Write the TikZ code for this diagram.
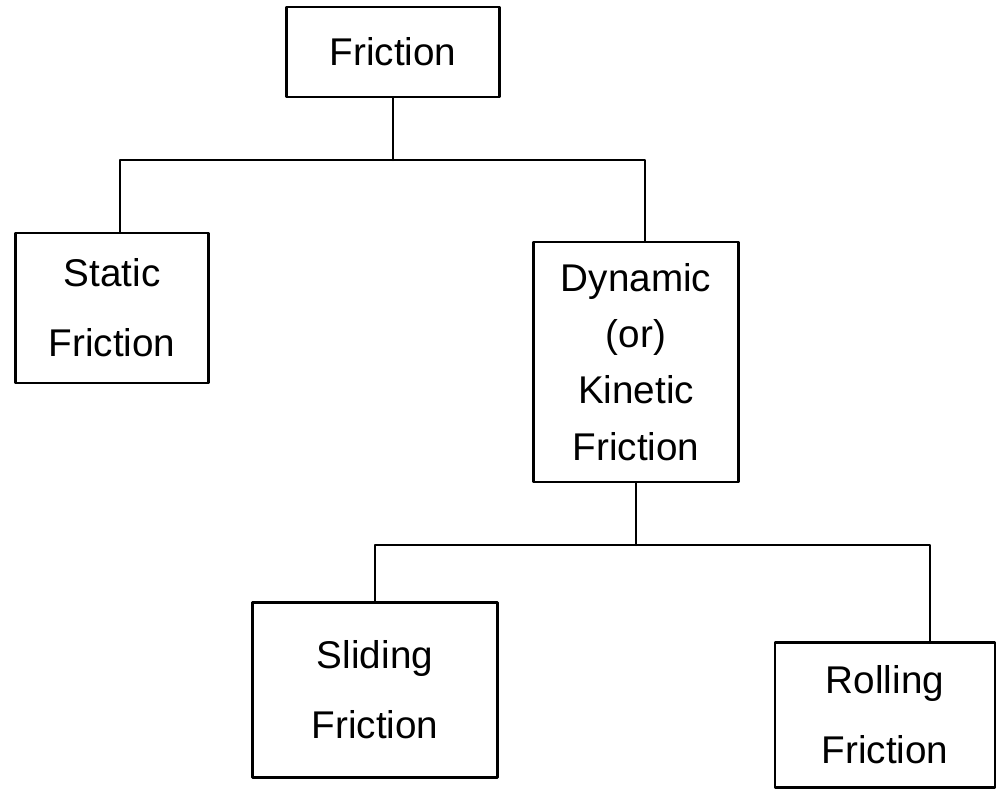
\documentclass[tikz,border=0pt]{standalone}
\usepackage{fontspec}
\setmainfont{Liberation Sans}
\begin{document}
\begin{tikzpicture}[x=0.02cm,y=-0.02cm,line join=round,line cap=round,
    box/.style={draw, line width=1.3pt, align=center, inner sep=2pt,
                font=\fontsize{22}{40}\selectfont},
    link/.style={line width=1.3pt}]
    \useasboundingbox (0,0) rectangle (1000,798);

    % kořen stromu
    \node[box, minimum width=4.26cm, minimum height=1.8cm] (friction) at (393,52) {Friction};

    % první úroveň
    \node[box, minimum width=3.86cm, minimum height=3cm] (static) at (112,308)
        {Static\\Friction};
    \node[box, minimum width=4.1cm, minimum height=4.8cm,
          font=\fontsize{22}{32}\selectfont] (dynamic) at (636,362)
        {Dynamic\\(or)\\Kinetic\\Friction};

    % druhá úroveň
    \node[box, minimum width=4.9cm, minimum height=3.5cm] (sliding) at (375,690)
        {Sliding\\Friction};
    \node[box, minimum width=4.4cm, minimum height=2.9cm] (rolling) at (885,715)
        {Rolling\\Friction};

    % spojnice od kořene
    \coordinate (busA) at (393,160);
    \draw[link] (friction.south) -- (busA);
    \draw[link] (busA) -| ([xshift=0.16cm]static.north);
    \draw[link] (busA) -| ([xshift=0.18cm]dynamic.north);

    % spojnice od dynamického tření
    \coordinate (busB) at (636,545);
    \draw[link] (dynamic.south) -- (busB);
    \draw[link] (busB) -| (sliding.north);
    \draw[link] (busB) -| ([xshift=0.9cm]rolling.north);
\end{tikzpicture}
\end{document}
